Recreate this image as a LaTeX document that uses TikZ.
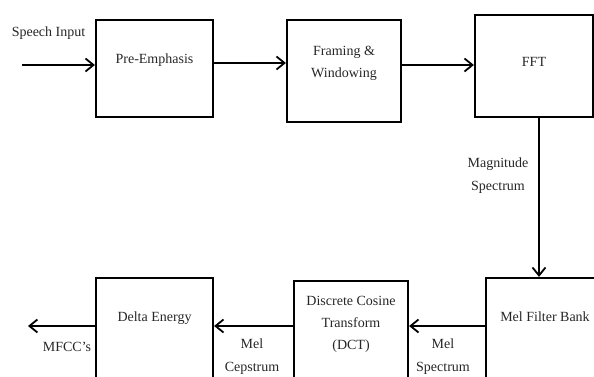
\documentclass[tikz,border=0pt]{standalone}
\usepackage{fontspec}
\setmainfont{Liberation Serif}
\usetikzlibrary{positioning,arrows.meta}
\tikzset{
  blk/.style={draw, rectangle, line width=2.2pt, minimum width=117pt, minimum height=100pt, align=center, text=black!85, font=\fontsize{14}{22}\selectfont},
  arr/.style={line width=2.2pt, -{Straight Barb[length=8pt,width=13pt,line width=1.8pt]}},
  lbl/.style={align=center, inner sep=0pt, text=black!85, font=\fontsize{14}{23}\selectfont}
}
\begin{document}
\begin{tikzpicture}[x=1pt,y=1pt]
\clip (0,0) rectangle (594,377);
% top row
\node (pre)[blk, minimum height=97pt, text depth=19pt] at (154.5,308.5) {Pre-Emphasis};
\node (frame)[blk, minimum width=114pt, minimum height=102pt, text depth=19pt, node distance=189.5pt, right of=pre, yshift=-2.5pt]{Framing \&\\Windowing};
\node (fft)[blk, minimum width=118pt, minimum height=102pt, text depth=8pt, node distance=190pt, right of=frame, yshift=5pt]{FFT};
% bottom row
\node (mfb)[blk, minimum width=118pt, text depth=22pt, node distance=262pt, below of=fft, xshift=11pt]{Mel Filter Bank};
\node (dct)[blk, minimum width=114pt, text depth=16pt, node distance=194pt, left of=mfb, yshift=-3pt]{Discrete Cosine\\Transform\\(DCT)};
\node (delta)[blk, text depth=22pt, node distance=196.5pt, left of=dct, yshift=3pt]{Delta Energy};
% connectors
\coordinate (in) at (22,312);
\draw[arr] (in) -- (in -| pre.west);
\draw[arr] ([yshift=5.5pt]pre.east) -- ([yshift=5.5pt]pre.east -| frame.west);
\draw[arr] ([yshift=6pt]frame.east) -- ([yshift=6pt]frame.east -| fft.west);
\draw[arr] ([xshift=5pt]fft.south) -- ([xshift=5pt]fft.south |- mfb.north);
\draw[arr] ([yshift=2pt]mfb.west) -- ([yshift=2pt]mfb.west -| dct.east);
\draw[arr] ([yshift=5pt]dct.west) -- ([yshift=5pt]dct.west -| delta.east);
\coordinate (out) at (28,51);
\draw[arr] (delta.west |- out) -- (out);
% labels
\node (speech)[lbl] at (48.5,344) {Speech Input};
\node (magspec)[lbl] at (498,201) {Magnitude\\Spectrum};
\node (melspec)[lbl] at (443,20) {Mel\\Spectrum};
\node (melcep)[lbl] at (252,20) {Mel\\Cepstrum};
\node (mfcc)[lbl] at (67,30) {MFCC's};
\end{tikzpicture}
\end{document}
